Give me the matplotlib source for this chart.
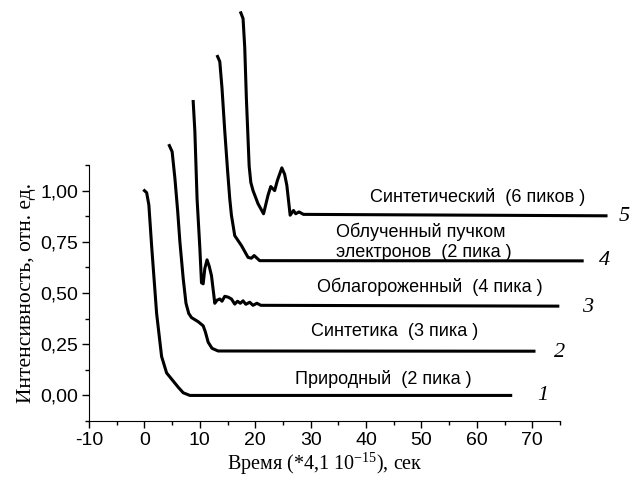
# coding: utf-8
""" затухание интенсивности, пять образцов """
import matplotlib
matplotlib.use("Agg")
import matplotlib.pyplot as plt
from matplotlib.ticker import MultipleLocator, FuncFormatter

plt.rcParams['font.family'] = ['Liberation Sans', 'DejaVu Sans']
plt.rcParams['mathtext.fontset'] = 'custom'
plt.rcParams['mathtext.rm'] = 'Liberation Serif'
plt.rcParams['axes.unicode_minus'] = False

# curve 1 - природный
x1 = [0, 0.4, 0.8, 1.3, 2.2, 3.1, 4.0, 5.2, 6.1, 7.0, 8.2, 66.1]
y1 = [1.0, 0.99, 0.93, 0.73, 0.40, 0.19, 0.11, 0.07, 0.04, 0.013, 0.0, 0.0]
# curve 2 - синтетика
x2 = [4.5, 5.0, 5.5, 6.0, 6.4, 7.0, 7.5, 8.0, 8.5, 9.7, 10.6, 11.0, 11.5, 12.2, 13.3, 70.3]
y2 = [1.22, 1.19, 1.06, 0.90, 0.75, 0.57, 0.45, 0.40, 0.38, 0.36, 0.34, 0.31, 0.26, 0.23, 0.217, 0.216]
# curve 3 - облагороженный
x3 = [8.8, 9.1, 9.5, 10.0, 10.3, 10.6, 10.9, 11.3, 11.7, 12.1, 12.7, 13.1, 13.6, 14.0, 14.5,
      15.1, 15.7, 16.3, 16.8, 17.3, 17.8, 18.3, 19.0, 19.6, 20.3, 21.0, 74.6]
y3 = [1.435, 1.29, 0.96, 0.72, 0.55, 0.545, 0.62, 0.662, 0.63, 0.585, 0.45, 0.465, 0.471, 0.46, 0.484,
      0.48, 0.471, 0.446, 0.46, 0.45, 0.462, 0.445, 0.455, 0.44, 0.45, 0.44, 0.436]
# curve 4 - облученный
x4 = [13.2, 13.6, 14.0, 14.5, 15.0, 15.4, 15.7, 16.3, 17.5, 18.7, 19.3, 19.8, 20.8, 79.0]
y4 = [1.655, 1.63, 1.50, 1.29, 1.10, 0.96, 0.88, 0.78, 0.732, 0.674, 0.67, 0.683, 0.658, 0.657]
# curve 5 - синтетический
x5 = [17.4, 17.8, 18.1, 18.4, 18.9, 19.2, 19.6, 20.5, 21.5, 22.3, 22.8, 23.5, 24.0, 24.8, 25.3, 25.7,
      26.3, 26.9, 27.3, 27.9, 28.7, 83.3]
y5 = [1.868, 1.84, 1.70, 1.45, 1.12, 1.04, 1.0, 0.936, 0.887, 0.977, 1.02, 1.0, 1.05, 1.111, 1.08, 1.026,
      0.88, 0.903, 0.887, 0.896, 0.884, 0.877]

curves = [(x1, y1), (x2, y2), (x3, y3), (x4, y4), (x5, y5)]

labels = ["Природный  (2 пика )", "Синтетика  (3 пика )", "Облагороженный  (4 пика )",
          "Облученный пучком\nэлектронов  (2 пика )", "Синтетический  (6 пиков )"]
numbers = ["1", "2", "3", "4", "5"]

fig = plt.figure(figsize=(6.3, 4.79), dpi=100)
ax = fig.add_axes([0.1413, 0.121, 0.7476, 0.5345])

for x, y in curves:
    ax.plot(x, y, color='black', lw=2.2, clip_on=False, solid_joinstyle='round')

ax.set_xlim(-10, 75)
ax.set_ylim(-0.125, 1.125)
ax.xaxis.set_major_locator(MultipleLocator(10))
ax.xaxis.set_minor_locator(MultipleLocator(5))
ax.yaxis.set_major_locator(MultipleLocator(0.25))
ax.yaxis.set_minor_locator(MultipleLocator(0.125))
ax.yaxis.set_major_formatter(FuncFormatter(lambda v, p: ("%.2f" % v).replace('.', ',')))
ax.spines['top'].set_visible(False)
ax.spines['right'].set_visible(False)
ax.tick_params(which='both', direction='out', labelsize=14, width=1)
ax.tick_params(which='major', length=5, pad=3)
ax.tick_params(which='minor', length=3)

# text labels next to curves
lab_pos = [(27.2, 0.078), (30.0, 0.314), (31.1, 0.53), (34.6, 0.75), (40.7, 0.97)]
for (tx, ty), s in zip(lab_pos, labels):
    ax.text(tx, ty, s, fontsize=13, ha='left', va='center', linespacing=1.3, clip_on=False)

num_pos = [(71.9, 0.0), (75.0, 0.211), (80.0, 0.431), (83.1, 0.657), (86.5, 0.873)]
for (tx, ty), s in zip(num_pos, numbers):
    ax.text(tx, ty, s, fontsize=16, ha='center', va='center', family='Liberation Serif',
            style='italic', clip_on=False)

ax.set_xlabel(r"Время (*4,1 10$^{\mathrm{-15}}$), сек", family='Liberation Serif', fontsize=14.5,
              labelpad=1)
ax.set_ylabel("Интенсивность, отн. ед.", family='Liberation Serif', fontsize=15.5, labelpad=3)

fig.savefig("out.png", dpi=100)
